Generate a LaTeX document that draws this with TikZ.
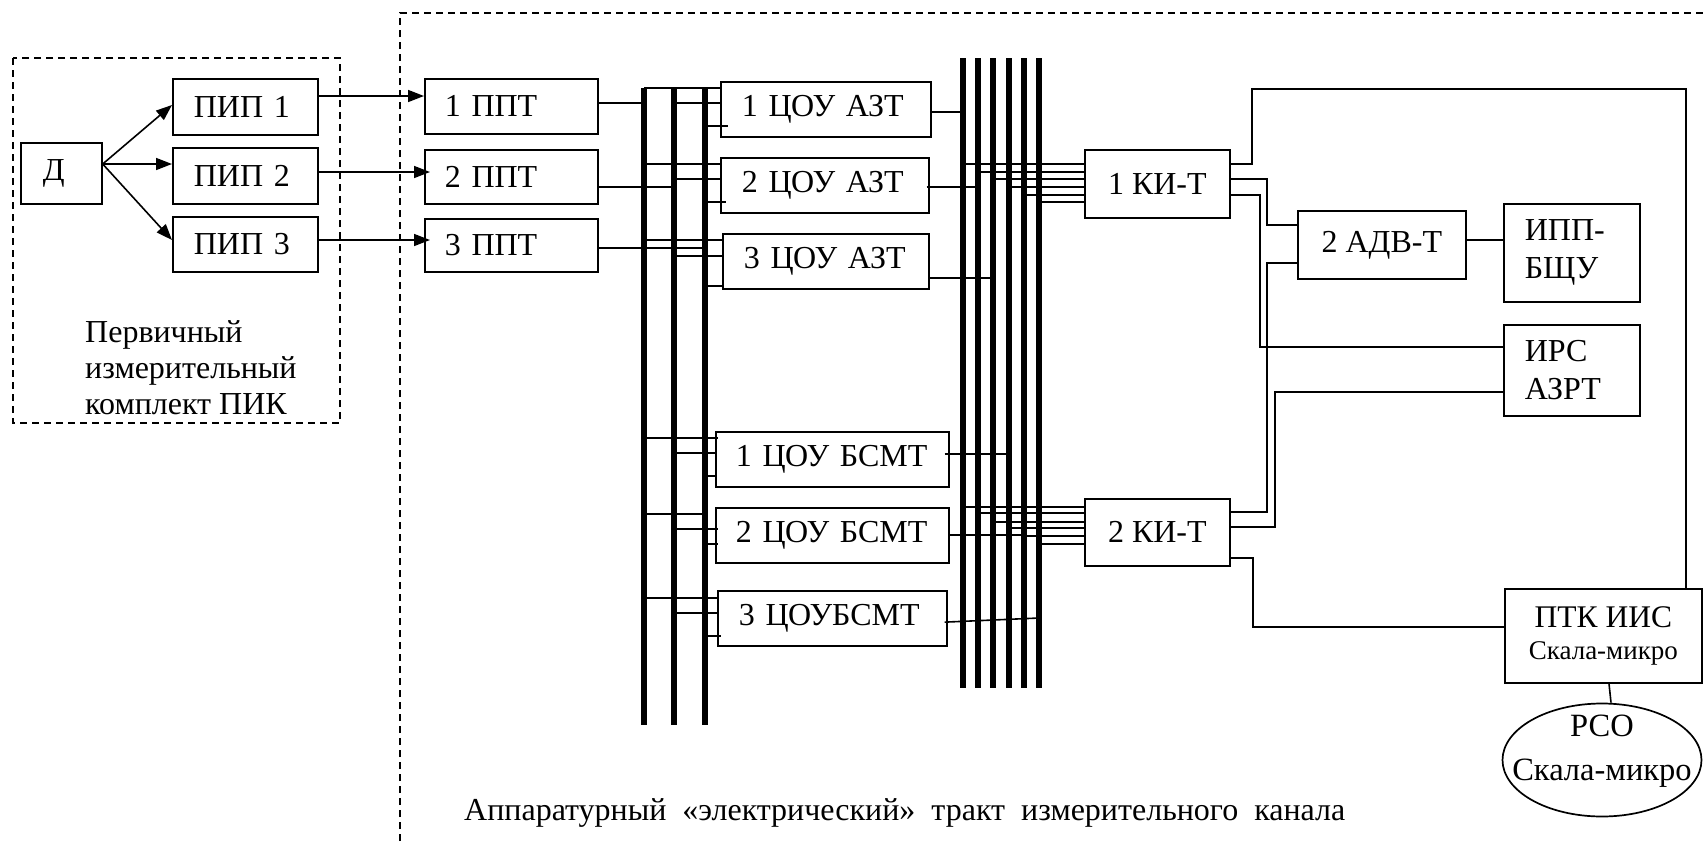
\documentclass[tikz,border=0pt]{standalone}
\usepackage{fontspec}
\setmainfont{Liberation Serif}
\usetikzlibrary{arrows.meta,shapes.geometric}
\newcommand\fsbig{\fontsize{32}{36}\selectfont}
\newcommand\fstwo{\fontsize{32}{38}\selectfont}
\newcommand\fsptk{\fontsize{31.5}{36}\selectfont}
\newcommand\fssmall{\fontsize{27}{30}\selectfont}
\newcommand\fsrso{\fontsize{32.5}{44}\selectfont}
\begin{document}
\begin{tikzpicture}[x=1pt,y=-1pt,
  box/.style={draw, line width=1.7pt, inner sep=0pt, font=\fsbig, align=center},
  corners/.style args={#1/#2/#3/#4}{at={(#1,#2)}, anchor=north west,
     minimum width={(#3)-(#1)}, minimum height={(#4)-(#2)}},
  lbox/.style={box, align=left, inner xsep=#1},
  wire/.style={line width=1.6pt},
  arr/.style={wire, -{Triangle[length=16pt,width=12pt]}},
  busline/.style={line width=6pt},
  border/.style={line width=1.5pt, dash pattern=on 7pt off 5pt},
]
\useasboundingbox (0,0) rectangle (1703,841);

% borders
\draw[border] (13,58) rectangle (340,423);
\draw[border] (400,841) -- (400,13) -- (1703,13);

% boxes
\node[lbox=22pt, text width=37pt, corners=20/142/101/203] (D) {Д};
\node[lbox=21pt, text width=103pt, corners=172/78/317/134] (pip1) {ПИП 1};
\node[lbox=21pt, text width=103pt, corners=172/147/317/203] (pip2) {ПИП 2};
\node[lbox=21pt, text width=103pt, corners=172/216/317/271] (pip3) {ПИП 3};

\node[lbox=20pt, text width=133pt, corners=424/78/597/133] (ppt1) {1 ППТ};
\node[lbox=20pt, text width=133pt, corners=424/149/597/203] (ppt2) {2 ППТ};
\node[lbox=20pt, text width=133pt, corners=424/218/597/271] (ppt3) {3 ППТ};

\node[lbox=21pt, text width=168pt, corners=720/81/930/136] (c1) {\mbox{1 ЦОУ АЗТ}};
\node[lbox=21pt, text width=166pt, corners=720/157/928/212] (c2) {\mbox{2 ЦОУ АЗТ}};
\node[lbox=21pt, text width=164pt, corners=722/233/928/288] (c3) {\mbox{3 ЦОУ АЗТ}};

\node[lbox=20pt, text width=193pt, corners=715/431/948/486] (s1) {\mbox{1 ЦОУ БСМТ}};
\node[lbox=20pt, text width=193pt, corners=715/507/948/562] (s2) {\mbox{2 ЦОУ БСМТ}};
\node[lbox=21pt, text width=187pt, corners=717/590/946/645] (s3) {\mbox{3 ЦОУБСМТ}};

\node[box, corners=1084/149/1229/217] (k1) {1 КИ-Т};
\node[box, corners=1084/498/1229/565] (k2) {2 КИ-Т};

\node[box, corners=1297/210/1465/278] (adv) {2 АДВ-Т};
\node[lbox=21pt, text width=94pt, font=\fstwo, corners=1503/203/1639/301] (ipp) {ИПП-\\БЩУ};
\node[lbox=21pt, text width=94pt, font=\fstwo, corners=1503/324/1639/415] (irs) {ИРС\\АЗРТ};
\node[box, font=\fsptk, corners=1504/588/1701/682] (ptk) {ПТК ИИС\\[-4pt]{\fssmall Скала-микро}};
\node[draw, line width=1.7pt, ellipse, inner sep=0pt, minimum width=199pt, minimum height=113pt,
  label={[yshift=9pt, align=center, font=\fsrso]center:РСО\\Скала-микро}] (rso) at (1602,760) {};

% texts
\node[font=\fsbig, align=left, anchor=west, inner sep=0pt] (pik) at (85,368) {Первичный\\измерительный\\комплект ПИК};
\node[font=\fsbig, anchor=base west, inner sep=0pt] (trakt) at (464,820) {Аппаратурный \ «электрический» \ тракт \ измерительного \ канала};

% buses
\coordinate (b1) at (644,88);  \coordinate (b1e) at (644,725);
\coordinate (b2) at (674,88);  \coordinate (b2e) at (674,725);
\coordinate (b3) at (705,88);  \coordinate (b3e) at (705,725);
\foreach \b in {b1,b2,b3} \draw[busline] (\b) -- (\b e);
\coordinate (r1) at (963,58);  \coordinate (r1e) at (963,688);
\coordinate (r2) at (978,58);  \coordinate (r2e) at (978,688);
\coordinate (r3) at (993,58);  \coordinate (r3e) at (993,688);
\coordinate (r4) at (1009,58); \coordinate (r4e) at (1009,688);
\coordinate (r5) at (1024,58); \coordinate (r5e) at (1024,688);
\coordinate (r6) at (1039,58); \coordinate (r6e) at (1039,688);
\foreach \b in {r1,r2,r3,r4,r5,r6} \draw[busline] (\b) -- (\b e);

% D -> PIP
\draw[arr] (D.east |- 0,164) -- (pip1.west |- 0,105);
\draw[arr] (D.east |- 0,164) -- (pip2.west |- 0,164);
\draw[arr] (D.east |- 0,164) -- (pip3.west |- 0,240);

% PIP -> PPT
\draw[arr] (pip1.east |- 0,96) -- (ppt1.west |- 0,96);
\draw[arr, shorten >=-6pt] (pip2.east |- 0,172) -- (ppt2.west |- 0,172);
\draw[arr, shorten >=-6pt] (pip3.east |- 0,240) -- (ppt3.west |- 0,240);

% PPT -> buses
\draw[wire] (ppt1.east |- 0,103) -- (b1 |- 0,103);
\draw[wire] (ppt2.east |- 0,187) -- (b2 |- 0,187);
\draw[wire] (ppt3.east |- 0,248) -- (b3 |- 0,248);

% buses -> ЦОУ АЗТ
\draw[wire] (b1 |- 0,88) -- (c1.west |- 0,88);
\draw[wire] (b2 |- 0,103) -- (c1.west |- 0,103);
\draw[wire, shorten >=-8pt] (b3 |- 0,126) -- (c1.west |- 0,126);
\draw[wire] (b1 |- 0,164) -- (c2.west |- 0,164);
\draw[wire] (b2 |- 0,179) -- (c2.west |- 0,179);
\draw[wire, shorten >=-6pt] (b3 |- 0,202) -- (c2.west |- 0,202);
\draw[wire] (b1 |- 0,240) -- (c3.west |- 0,240);
\draw[wire] (b2 |- 0,256) -- (c3.west |- 0,256);
\draw[wire] (b3 |- 0,286) -- (c3.west |- 0,286);

% buses -> ЦОУ БСМТ
\draw[wire, shorten >=-3pt] (b1 |- 0,438) -- (s1.west |- 0,438);
\draw[wire] (b2 |- 0,453) -- (s1.west |- 0,453);
\draw[wire] (b3 |- 0,476) -- (s1.west |- 0,476);
\draw[wire, shorten >=7pt] (b1 |- 0,514) -- (s2.west |- 0,514);
\draw[wire, shorten >=-3pt] (b2 |- 0,529) -- (s2.west |- 0,529);
\draw[wire, shorten >=-3pt] (b3 |- 0,544) -- (s2.west |- 0,544);
\draw[wire] (b1 |- 0,598) -- (s3.west |- 0,598);
\draw[wire] (b2 |- 0,613) -- (s3.west |- 0,613);
\draw[wire, shorten >=-4pt] (b3 |- 0,636) -- (s3.west |- 0,636);

% ЦОУ -> right buses
\draw[wire] (c1.east |- 0,112) -- (r1 |- 0,112);
\draw[wire, shorten <=-3pt] (c2.east |- 0,187) -- (r2 |- 0,187);
\draw[wire] (c3.east |- 0,278) -- (r3 |- 0,278);
\draw[wire, shorten <=-5pt] (s1.east |- 0,454) -- (r4 |- 0,454);
\draw[wire] (s2.east |- 0,535) -- (r5 |- 0,535);
\draw[wire, shorten <=-3pt] (s3.east |- 0,622) -- (r6 |- 0,618);

% right buses -> КИ-Т
\foreach \b/\y in {r1/164,r2/172,r3/179,r4/187,r5/195,r6/202}
  \draw[wire] (\b |- 0,\y) -- (k1.west |- 0,\y);
\foreach \b/\y in {r1/507,r2/513,r3/522,r4/528,r5/536,r6/544}
  \draw[wire] (\b |- 0,\y) -- (k2.west |- 0,\y);

% КИ-Т outputs
\draw[wire] (k1.east |- 0,164) -- (1252,164) -- (1252,89) -- (1686,89) -- (ptk.north -| 1686,0);
\draw[wire] (k1.east |- 0,179) -- (1267,179) -- (1267,225) -- (adv.west |- 0,225);
\draw[wire] (k1.east |- 0,195) -- (1260,195) -- (1260,347) -- (irs.west |- 0,347);
\draw[wire] (adv.west |- 0,263) -- (1267,263) -- (1267,512) -- (k2.east |- 0,512);
\draw[wire] (adv.east |- 0,240) -- (ipp.west |- 0,240);
\draw[wire] (irs.west |- 0,392) -- (1275,392) -- (1275,527) -- (k2.east |- 0,527);
\draw[wire] (k2.east |- 0,558) -- (1253,558) -- (1253,627) -- (ptk.west |- 0,627);
\draw[wire] (ptk.south -| 1609,0) -- (rso.north -| 1611,0);

\end{tikzpicture}
\end{document}
